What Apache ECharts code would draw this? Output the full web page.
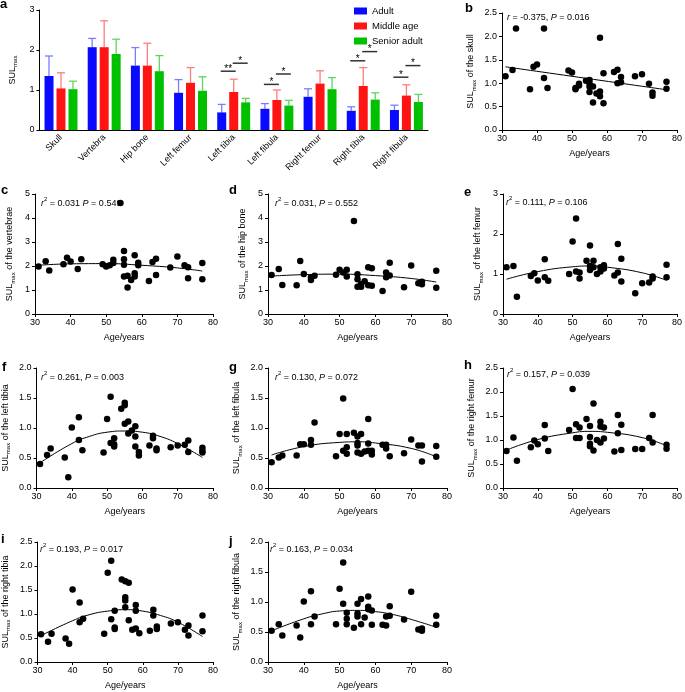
<!DOCTYPE html>
<html><head><meta charset="utf-8">
<script src="https://cdn.jsdelivr.net/npm/echarts@6/dist/echarts.min.js"></script>
<style>html,body{margin:0;padding:0;background:#fff}#c{width:685px;height:692px}</style>
</head><body><div id="c"></div>
<script>
const FONT = '"Liberation Sans", Arial, Helvetica, sans-serif';

// ---------- panel a data ----------
const boneCats = ['Skull','Vertebra','Hip bone','Left femur','Left tibia','Left fibula','Right femur','Right tibia','Right fibula'];
const groupNames = ['Adult','Middle age','Senior adult'];
const adultMean   = [1.35,2.07,1.61,0.93,0.44,0.53,0.83,0.48,0.50];
const adultUpper  = [1.85,2.29,2.06,1.26,0.64,0.66,1.03,0.58,0.62];
const middleMean  = [1.04,2.07,1.61,1.18,0.95,0.75,1.16,1.10,0.86];
const middleUpper = [1.43,2.73,2.17,1.56,1.27,1.00,1.48,1.56,1.13];
const seniorMean  = [1.02,1.90,1.47,0.98,0.69,0.61,1.02,0.76,0.70];
const seniorUpper = [1.22,2.27,1.86,1.33,0.79,0.74,1.31,0.93,0.89];
// [category index, bracket level, from group, to group, mark]
const sigMarks = [[4,1.47,0,1,'**'],[4,1.67,1,2,'*'],[5,1.14,0,1,'*'],[5,1.40,1,2,'*'],
                  [7,1.73,0,1,'*'],[7,1.96,1,2,'*'],[8,1.32,0,1,'*'],[8,1.61,1,2,'*']];

// ---------- scatter panels data [age, SULmax] ----------
const skullPts = [[31,1.15],[33,1.28],[34,2.17],[38,0.87],[39,1.35],[40,1.40],[42,2.17],[42,1.11],[43,0.90],[49,1.27],[50,1.23],[51,0.87],[51,0.90],[52,0.95],[52,0.99],[54,1.05],[55,1.07],[55,1.00],[55,0.93],[55,0.81],[56,0.93],[56,0.59],[57,0.78],[58,1.97],[58,0.82],[58,0.72],[59,1.21],[59,0.57],[62,1.24],[63,1.29],[63,1.00],[64,1.13],[64,1.02],[68,1.15],[70,1.19],[72,0.99],[73,0.80],[73,0.73],[77,1.03],[77,0.88]];
const skullFit = [[31,1.35],[77,0.86]];

const vertebraePts = [[31,1.98],[33,2.20],[34,1.81],[38,2.07],[39,2.34],[40,2.19],[42,1.88],[43,2.28],[49,2.07],[50,1.98],[51,2.03],[52,2.12],[52,2.26],[54,4.62],[55,2.63],[55,2.28],[55,2.05],[55,1.56],[56,1.59],[56,1.10],[57,1.42],[58,2.45],[58,1.70],[58,1.56],[59,2.14],[59,2.03],[62,1.38],[63,2.17],[64,2.30],[64,1.63],[68,1.94],[70,2.40],[72,2.03],[73,1.95],[73,1.49],[77,2.12],[77,1.45]];
const vertebraeFit = [[31,2.03],[40,2.09],[50,2.10],[60,2.03],[70,1.92],[77,1.79]];

const hipPts = [[31,1.62],[33,1.87],[34,1.21],[38,1.20],[39,2.21],[40,1.67],[42,1.42],[42,1.53],[43,1.59],[49,1.64],[50,1.84],[51,1.73],[52,1.84],[52,1.56],[54,3.87],[55,1.66],[55,1.45],[55,1.14],[56,1.14],[56,1.25],[57,1.36],[58,1.95],[58,1.20],[59,1.91],[59,1.18],[62,0.96],[63,1.73],[63,1.53],[64,2.14],[64,1.60],[68,1.11],[70,2.02],[72,1.28],[73,1.34],[73,1.24],[77,1.80],[77,1.09]];
const hipFit = [[31,1.58],[40,1.64],[50,1.66],[60,1.60],[70,1.48],[77,1.33]];

const lFemurPts = [[31,1.17],[33,1.20],[34,0.43],[38,0.95],[39,1.02],[40,0.84],[42,1.37],[42,0.92],[43,0.83],[49,1.00],[50,1.81],[51,2.39],[51,1.06],[52,1.04],[52,0.89],[54,1.33],[55,1.71],[55,1.20],[55,1.10],[56,1.33],[56,1.17],[57,1.00],[58,1.17],[58,1.06],[59,1.22],[59,1.14],[62,0.96],[63,1.75],[63,1.04],[64,1.38],[64,0.81],[68,0.52],[70,0.77],[72,0.79],[73,0.94],[73,0.89],[77,1.23],[77,0.92]];
const lFemurFit = [[31,0.87],[40,1.06],[50,1.18],[55,1.20],[60,1.17],[70,1.03],[77,0.84]];

const lTibiaPts = [[31,0.40],[33,0.55],[34,0.66],[38,0.51],[39,0.18],[40,1.01],[42,1.18],[42,0.80],[43,0.63],[49,0.59],[50,1.15],[51,1.52],[51,0.75],[52,0.83],[52,0.73],[52,0.69],[54,1.32],[55,1.42],[55,1.38],[55,1.07],[56,1.11],[56,0.91],[57,0.96],[58,1.03],[58,0.86],[58,0.69],[59,0.60],[59,0.54],[62,0.71],[63,0.87],[63,0.83],[64,0.66],[64,0.63],[68,0.68],[70,0.71],[72,0.72],[73,0.79],[73,0.60],[77,0.67],[77,0.62],[77,0.59]];
const lTibiaFit = [[31,0.42],[40,0.74],[45,0.86],[50,0.93],[55,0.95],[60,0.93],[65,0.86],[70,0.74],[77,0.51]];

const lFibulaPts = [[31,0.43],[33,0.51],[34,0.54],[38,0.54],[39,0.73],[40,0.73],[42,0.80],[42,0.72],[43,1.09],[49,0.53],[50,0.90],[51,1.49],[51,0.62],[52,0.90],[52,0.68],[52,0.57],[54,0.92],[55,0.86],[55,0.75],[55,0.71],[55,0.59],[56,0.90],[56,0.57],[57,0.61],[58,1.15],[58,0.74],[58,0.62],[59,0.62],[59,0.56],[62,0.72],[63,0.72],[63,0.66],[64,0.53],[68,0.58],[70,0.81],[72,0.71],[73,0.71],[73,0.44],[77,0.70],[77,0.52]];
const lFibulaFit = [[31,0.55],[40,0.69],[50,0.76],[55,0.77],[60,0.75],[70,0.66],[77,0.52]];

const rFemurPts = [[31,0.77],[33,1.05],[34,0.57],[38,0.85],[39,0.99],[40,0.91],[42,1.31],[42,1.03],[43,0.77],[49,1.21],[50,2.06],[51,1.33],[51,1.04],[52,1.26],[52,1.04],[54,1.44],[55,1.29],[55,1.06],[55,0.92],[55,0.87],[56,1.76],[56,0.78],[57,1.00],[58,1.38],[58,1.28],[58,0.95],[59,1.26],[59,1.03],[62,0.76],[63,1.52],[63,1.14],[64,1.32],[64,0.79],[68,0.81],[70,0.81],[72,1.04],[73,1.52],[73,0.95],[77,0.90],[77,0.82]];
const rFemurFit = [[31,0.79],[40,1.01],[50,1.15],[55,1.18],[60,1.16],[70,1.05],[77,0.88]];

const rTibiaPts = [[31,0.58],[33,0.42],[34,0.59],[38,0.49],[39,0.38],[40,1.51],[42,1.24],[42,0.83],[43,0.90],[49,0.59],[50,1.86],[51,2.11],[51,0.89],[52,1.07],[52,0.72],[52,0.69],[54,1.72],[55,1.68],[55,1.35],[55,1.28],[55,1.14],[56,1.65],[56,0.87],[57,0.67],[58,1.19],[58,1.07],[58,0.70],[59,0.60],[62,0.65],[63,1.09],[63,0.97],[64,0.74],[64,0.69],[68,0.80],[70,0.83],[72,0.67],[73,0.76],[73,0.55],[77,0.97],[77,0.64]];
const rTibiaFit = [[31,0.55],[40,0.86],[45,0.99],[50,1.06],[55,1.09],[60,1.06],[65,0.97],[70,0.83],[77,0.53]];

const rFibulaPts = [[31,0.52],[33,0.63],[34,0.44],[38,0.61],[39,0.41],[40,1.01],[42,1.18],[42,0.63],[43,0.76],[49,0.63],[50,1.22],[51,1.66],[51,0.97],[52,0.82],[52,0.72],[52,0.63],[54,0.57],[55,0.97],[55,0.81],[55,0.76],[56,1.05],[56,0.63],[57,0.74],[58,1.09],[58,0.92],[58,0.88],[59,0.86],[59,0.62],[62,0.62],[63,0.76],[63,0.61],[64,0.93],[64,0.77],[68,0.71],[70,1.17],[72,0.54],[73,0.56],[73,0.52],[77,0.77],[77,0.62]];
const rFibulaFit = [[31,0.52],[40,0.72],[45,0.80],[50,0.85],[55,0.86],[60,0.84],[65,0.79],[70,0.71],[77,0.58]];

// ---------- layout ----------
const panels = [
  {letter:'b', grid:{left:502,top:13,width:176,height:117}, ymax:2.5, yint:0.5, dec:1, pts:skullPts, fit:skullFit, site:'the skull', gap:25, annot:'{i|r}{n| = -0.375, }{i|P}{n| = 0.016}', ap:[507,10], lp:[465,2]},
  {letter:'c', grid:{left:35,top:194,width:178,height:120}, ymax:5, yint:1, dec:0, pts:vertebraePts, fit:vertebraeFit, site:'the vertebrae', gap:19, annot:'{i|r}{sup|2}{n| = 0.031 }{i|P}{n| = 0.549}', ap:[41,196], lp:[1,184]},
  {letter:'d', grid:{left:268,top:194,width:179,height:120}, ymax:5, yint:1, dec:0, pts:hipPts, fit:hipFit, site:'the hip bone', gap:19, annot:'{i|r}{sup|2}{n| = 0.031, }{i|P}{n| = 0.552}', ap:[275,196], lp:[229,184]},
  {letter:'e', grid:{left:503,top:194,width:177,height:120}, ymax:3, yint:1, dec:0, pts:lFemurPts, fit:lFemurFit, site:'the left femur', gap:19, annot:'{i|r}{sup|2}{n| = 0.111, }{i|P}{n| = 0.106}', ap:[506,195], lp:[464,186]},
  {letter:'f', grid:{left:35,top:368,width:178,height:120}, ymax:2, yint:0.5, dec:1, pts:lTibiaPts, fit:lTibiaFit, site:'the left tibia', gap:25, annot:'{i|r}{sup|2}{n| = 0.261, }{i|P}{n| = 0.003}', ap:[41,370], lp:[2,361]},
  {letter:'g', grid:{left:268,top:368,width:179,height:120}, ymax:2, yint:0.5, dec:1, pts:lFibulaPts, fit:lFibulaFit, site:'the left fibula', gap:25, annot:'{i|r}{sup|2}{n| = 0.130, }{i|P}{n| = 0.072}', ap:[275,370], lp:[229,361]},
  {letter:'h', grid:{left:503,top:368,width:177,height:120}, ymax:2.5, yint:0.5, dec:1, pts:rFemurPts, fit:rFemurFit, site:'the right femur', gap:25, annot:'{i|r}{sup|2}{n| = 0.157, }{i|P}{n| = 0.039}', ap:[507,367], lp:[464,359]},
  {letter:'i', grid:{left:35,top:542,width:178,height:120}, ymax:2.5, yint:0.5, dec:1, pts:rTibiaPts, fit:rTibiaFit, site:'the right tibia', gap:26, annot:'{i|r}{sup|2}{n| = 0.193, }{i|P}{n| = 0.017}', ap:[40,542], lp:[1,533]},
  {letter:'j', grid:{left:268,top:542,width:179,height:120}, ymax:2, yint:0.5, dec:1, pts:rFibulaPts, fit:rFibulaFit, site:'the right fibula', gap:25, annot:'{i|r}{sup|2}{n| = 0.163, }{i|P}{n| = 0.034}', ap:[270,542], lp:[229,535]}
];

const axisLineStyle = {show:true, lineStyle:{color:'#000', width:1}};
const tickStyle = {show:true, inside:false, length:3, lineStyle:{color:'#000', width:1}};
const nameRich = {
  n:{fontFamily:FONT, fontSize:9, color:'#000', fontWeight:'normal', lineHeight:12, verticalAlign:'middle'},
  s:{fontFamily:FONT, fontSize:6, color:'#000', fontWeight:'normal', lineHeight:12, verticalAlign:'bottom'}
};
const annRich = {
  n:{fontFamily:FONT, fontSize:9, color:'#000', fontWeight:'normal', lineHeight:12, verticalAlign:'bottom'},
  i:{fontFamily:FONT, fontSize:9, color:'#000', fontWeight:'normal', fontStyle:'italic', lineHeight:12, verticalAlign:'bottom'},
  sup:{fontFamily:FONT, fontSize:6, color:'#000', fontWeight:'normal', lineHeight:12, verticalAlign:'top'}
};

const grids = [{left:35, top:10, width:393, height:120}];
const xAxes = [{
  type:'category', gridIndex:0, data:boneCats,
  axisLine:axisLineStyle, axisTick:{show:false},
  axisLabel:{interval:0, rotate:45, fontSize:9, color:'#000', fontFamily:FONT, margin:6}
}];
const yAxes = [{
  type:'value', gridIndex:0, min:0, max:3, interval:1,
  axisLine:axisLineStyle, axisTick:tickStyle, splitLine:{show:false},
  axisLabel:{fontSize:9, color:'#000', fontFamily:FONT, margin:5},
  name:'{n|SUL}{s|max}', nameLocation:'middle', nameGap:18, nameRotate:90,
  nameTextStyle:{rich:nameRich}
}];
const titles = [{text:'a', left:0, top:-2, padding:0, textStyle:{fontFamily:FONT, fontWeight:'bold', fontSize:13, color:'#000'}}];

const barColors = ['#0a0aff','#ff1414','#00c000'];
const errColors = ['#7c7cff','#ff7c7c','#5cd65c'];
const means = [adultMean, middleMean, seniorMean];
const uppers = [adultUpper, middleUpper, seniorUpper];
const BAR_W = 9, BAR_STEP = 12;

const series = [];
groupNames.forEach((g, k) => {
  series.push({
    name:g, type:'bar', xAxisIndex:0, yAxisIndex:0, data:means[k],
    barWidth:BAR_W, barGap:'33%', itemStyle:{color:barColors[k]}, silent:true, z:3
  });
});
groupNames.forEach((g, k) => {
  series.push({
    type:'custom', xAxisIndex:0, yAxisIndex:0, silent:true, z:2,
    data: boneCats.map((c, i) => [i, means[k][i], uppers[k][i]]),
    renderItem: (params, api) => {
      const lo = api.coord([api.value(0), api.value(1)]);
      const hi = api.coord([api.value(0), api.value(2)]);
      const x = lo[0] + (k - 1) * BAR_STEP;
      const st = {stroke:errColors[k], lineWidth:1.3};
      return {type:'group', children:[
        {type:'line', shape:{x1:x, y1:lo[1], x2:x, y2:hi[1]}, style:st},
        {type:'line', shape:{x1:x-4, y1:hi[1], x2:x+4, y2:hi[1]}, style:st}
      ]};
    }
  });
});
series.push({
  type:'custom', xAxisIndex:0, yAxisIndex:0, silent:true, z:4,
  data: sigMarks,
  renderItem: (params, api) => {
    const p = api.coord([api.value(0), api.value(1)]);
    const x1 = p[0] + (api.value(2) - 1) * BAR_STEP - 1;
    const x2 = p[0] + (api.value(3) - 1) * BAR_STEP + 2;
    return {type:'group', children:[
      {type:'line', shape:{x1:x1, y1:p[1], x2:x2, y2:p[1]}, style:{stroke:'#333', lineWidth:1.5}},
      {type:'text', x:(x1+x2)/2, y:p[1]+3, style:{text:sigMarks[params.dataIndex][4], fontSize:10, fontFamily:FONT, fill:'#000', align:'center', verticalAlign:'bottom'}}
    ]};
  }
});

panels.forEach((p, idx) => {
  const gi = idx + 1;
  grids.push(p.grid);
  xAxes.push({
    type:'value', gridIndex:gi, min:30, max:80, interval:10,
    axisLine:axisLineStyle, axisTick:tickStyle, splitLine:{show:false},
    axisLabel:{fontSize:9, color:'#000', fontFamily:FONT, margin:4},
    name:'Age/years', nameLocation:'middle', nameGap:19,
    nameTextStyle:{fontSize:9, color:'#000', fontFamily:FONT}
  });
  yAxes.push({
    type:'value', gridIndex:gi, min:0, max:p.ymax, interval:p.yint,
    axisLine:axisLineStyle, axisTick:tickStyle, splitLine:{show:false},
    axisLabel:{fontSize:9, color:'#000', fontFamily:FONT, margin:5, formatter:v => v.toFixed(p.dec)},
    name:'{n|SUL}{s|max}{n| of ' + p.site + '}', nameLocation:'middle', nameGap:p.gap, nameRotate:90,
    nameTextStyle:{rich:nameRich}
  });
  series.push({
    type:'scatter', xAxisIndex:gi, yAxisIndex:gi, data:p.pts, symbolSize:6.5,
    itemStyle:{color:'#000', opacity:1}, silent:true, z:3
  });
  series.push({
    type:'line', xAxisIndex:gi, yAxisIndex:gi, data:p.fit, smooth:true, showSymbol:false,
    lineStyle:{color:'#000', width:1}, silent:true, z:2
  });
  titles.push({text:p.letter, left:p.lp[0], top:p.lp[1], padding:0,
    textStyle:{fontFamily:FONT, fontWeight:'bold', fontSize:13, color:'#000'}});
  titles.push({text:p.annot, left:p.ap[0], top:p.ap[1], padding:0,
    textStyle:{fontWeight:'normal', fontSize:9, rich:annRich}});
});

const chart = echarts.init(document.getElementById('c'), null, {renderer:'canvas'});
chart.setOption({
  animation:false,
  backgroundColor:'#fff',
  textStyle:{fontFamily:FONT},
  title:titles,
  legend:{data:groupNames, orient:'vertical', left:349, top:1, itemWidth:13, itemHeight:7, itemGap:5,
    icon:'rect', textStyle:{fontSize:9.5, color:'#000', fontFamily:FONT}, selectedMode:false},
  grid:grids, xAxis:xAxes, yAxis:yAxes, series:series
});
</script></body></html>
